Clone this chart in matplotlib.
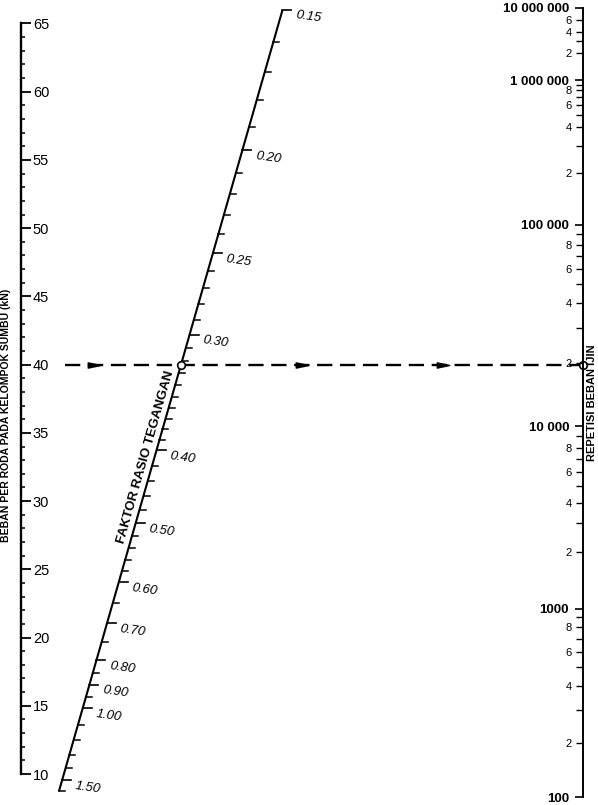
import numpy as np
import matplotlib
matplotlib.use("Agg")
import matplotlib.pyplot as plt
from matplotlib.ticker import FixedLocator, FuncFormatter
from matplotlib.path import Path

plt.rcParams['font.family'] = ['Liberation Sans', 'DejaVu Sans']
plt.rcParams['lines.scale_dashes'] = False

# ---------------- data ----------------
load_major = [10, 15, 20, 25, 30, 35, 40, 45, 50, 55, 60, 65]
load_minor = [v for v in range(10, 66) if v % 5 != 0]

sr_labeled = [0.15, 0.20, 0.25, 0.30, 0.40, 0.50, 0.60, 0.70, 0.80, 0.90, 1.00, 1.50]
sr_labels = ["0.15", "0.20", "0.25", "0.30", "0.40", "0.50", "0.60",
             "0.70", "0.80", "0.90", "1.00", "1.50"]
sr_minor = [0.16, 0.17, 0.18, 0.19, 0.21, 0.22, 0.23, 0.24, 0.26, 0.27, 0.28, 0.29,
            0.31, 0.32, 0.33, 0.34, 0.35, 0.36, 0.37, 0.38, 0.39,
            0.42, 0.44, 0.46, 0.48, 0.52, 0.54, 0.56, 0.58,
            0.65, 0.75, 0.85, 0.95, 1.10, 1.20, 1.30, 1.40, 1.60]

rep_decades = [100, 1000, 10000, 100000, 1000000, 10000000]
rep_decade_labels = ["100", "1000", "10 000", "100 000", "1 000 000", "10 000 000"]
rep_minor_labeled = [200, 400, 600, 800, 2000, 4000, 6000, 8000,
                     20000, 40000, 60000, 80000, 200000, 400000, 600000, 800000,
                     2000000, 4000000, 6000000]
rep_minor_labels = ["2", "4", "6", "8"] * 4 + ["2", "4", "6"]
rep_minor_plain = [300, 500, 700, 900, 3000, 5000, 7000, 9000,
                   30000, 50000, 70000, 90000, 300000, 500000, 700000, 900000, 3000000]

example_load = 40          # kN, dashed example line
example_arrows = [0.13, 0.50, 0.75]   # arrow positions along the example line

# ------------- nomograph scale calibration (value -> fraction of scale height) -------------
SR_CAL_VALUES = [0.15, 0.16, 0.17, 0.18, 0.19, 0.20, 0.25, 0.30, 0.40, 0.50,
                 0.60, 0.70, 0.80, 0.90, 1.00, 1.50, 1.60]
SR_CAL_FRAC = [0.9975, 0.9569, 0.9189, 0.8834, 0.8492, 0.8200, 0.6895, 0.5856, 0.4398, 0.3473,
               0.2725, 0.2205, 0.1736, 0.1420, 0.1128, 0.0215, 0.0070]

REP_CAL_VALUES = [1e2, 2e2, 4e2, 6e2, 8e2, 1e3, 2e3, 4e3, 6e3, 8e3, 1e4, 2e4, 4e4, 6e4, 8e4,
                  1e5, 2e5, 4e5, 6e5, 8e5, 1e6, 2e6, 4e6, 6e6, 1e7]
REP_CAL_FRAC = [0.0, 0.0684, 0.1407, 0.1838, 0.2155, 0.2383, 0.3105, 0.3726, 0.4119, 0.4423,
                0.4702, 0.5501, 0.6261, 0.6692, 0.6996, 0.7250, 0.7909, 0.8492, 0.8771, 0.8961,
                0.9087, 0.9430, 0.9696, 0.9848, 1.0]

LOG_REP = np.log10(REP_CAL_VALUES)
LOG_SR = np.log10(SR_CAL_VALUES)


def rep_to_frac(n):
    n = np.clip(np.asarray(n, dtype=float), 1e-12, None)
    return np.interp(np.log10(n), LOG_REP, REP_CAL_FRAC)


def frac_to_rep(f):
    return 10 ** np.interp(np.asarray(f, dtype=float), REP_CAL_FRAC, LOG_REP)


def sr_to_frac(v):
    return np.interp(np.log10(v), LOG_SR, SR_CAL_FRAC)


# ---------------- layout ----------------
FIG_W, FIG_H = 598, 805
X0, X1 = 21 / FIG_W, 583 / FIG_W
B, H = 8 / FIG_H, 789 / FIG_H
LOAD_LIM = (8.3145, 66.135)
LINE_X_BOTTOM, LINE_X_TOP = 0.0646, 0.4663     # slanted scale x at axes bottom / top
TICK_MINOR, TICK_MAJOR = 6 / 562, 9 / 562

fig = plt.figure(figsize=(FIG_W / 100, FIG_H / 100), dpi=100)

ax = fig.add_axes([X0, B, X1 - X0, H])
ax.set_xlim(0, 1)
ax.set_ylim(*LOAD_LIM)
ax.axis('off')

# ---- left scale: load ----
axL = fig.add_axes([X0, B, 1e-4, H])
axL.set_ylim(*LOAD_LIM)
for s in ['left', 'top', 'bottom']:
    axL.spines[s].set_visible(False)
axL.spines['right'].set_bounds(10, 65)
axL.spines['right'].set_linewidth(1.7)
axL.patch.set_visible(False)
axL.xaxis.set_visible(False)
axL.yaxis.tick_right()
axL.yaxis.set_major_locator(FixedLocator(load_major))
axL.yaxis.set_minor_locator(FixedLocator(load_minor))
axL.yaxis.set_major_formatter(FuncFormatter(lambda v, p: f"{v:g}"))
axL.tick_params(axis='y', which='major', direction='out', length=7, width=1.3,
                pad=1.5, labelsize=10.5)
axL.tick_params(axis='y', which='minor', direction='out', length=3, width=1.1)

# ---- right scale: repetitions ----
axR = fig.add_axes([X1, B, 1e-4, H])
axR.set_yscale('function', functions=(rep_to_frac, frac_to_rep))
axR.set_ylim(100, 1e7)
for s in ['right', 'top', 'bottom']:
    axR.spines[s].set_visible(False)
axR.spines['left'].set_linewidth(1.4)
axR.patch.set_visible(False)
axR.xaxis.set_visible(False)
axR.yaxis.tick_left()
major_lab = dict(zip(rep_decades, rep_decade_labels))
minor_lab = dict(zip(rep_minor_labeled, rep_minor_labels))
axR.yaxis.set_major_locator(FixedLocator(rep_decades))
axR.yaxis.set_minor_locator(FixedLocator(sorted(rep_minor_labeled + rep_minor_plain)))


def _lookup(d):
    def f(v, p):
        for k, lab in d.items():
            if abs(v - k) <= 1e-6 * k:
                return lab
        return ""
    return f


axR.yaxis.set_major_formatter(FuncFormatter(_lookup(major_lab)))
axR.yaxis.set_minor_formatter(FuncFormatter(_lookup(minor_lab)))
axR.tick_params(axis='y', which='major', direction='out', length=6, width=1.2,
                pad=4, labelsize=9.5)
axR.tick_params(axis='y', which='minor', direction='out', length=5, width=1.0,
                pad=3, labelsize=8)
for t in axR.yaxis.get_majorticklabels():
    t.set_fontweight('bold')


# ---- slanted scale: stress ratio factor ----
def line_x(f):
    return LINE_X_BOTTOM + f * (LINE_X_TOP - LINE_X_BOTTOM)


all_sr = sorted(sr_labeled + sr_minor)
f_top, f_bot = sr_to_frac(all_sr[0]), sr_to_frac(all_sr[-1])
ax.plot([line_x(f_bot), line_x(f_top)], [f_bot, f_top], transform=ax.transAxes,
        color='black', lw=1.5, solid_capstyle='butt')
for v in sr_minor:
    f = sr_to_frac(v)
    ax.plot([line_x(f), line_x(f) + TICK_MINOR], [f, f], transform=ax.transAxes,
            color='black', lw=1.1)
for v, lab in zip(sr_labeled, sr_labels):
    f = sr_to_frac(v)
    x = line_x(f)
    ax.plot([x, x + TICK_MAJOR], [f, f], transform=ax.transAxes, color='black', lw=1.2)
    ax.annotate(lab, xy=(x + TICK_MAJOR, f), xycoords='axes fraction',
                xytext=(3, -4), textcoords='offset points', ha='left', va='center',
                rotation=-8, rotation_mode='anchor', fontsize=9.5, fontstyle='italic')

# angle of slanted line on screen
p0 = ax.transAxes.transform((line_x(0), 0))
p1 = ax.transAxes.transform((line_x(1), 1))
ang = np.degrees(np.arctan2(p1[1] - p0[1], p1[0] - p0[0]))
nx, ny = -np.sin(np.radians(ang)), np.cos(np.radians(ang))
f_lab = 0.428
ax.annotate("FAKTOR RASIO TEGANGAN", xy=(line_x(f_lab), f_lab), xycoords='axes fraction',
            xytext=(1.5 * nx, 1.5 * ny), textcoords='offset points', ha='center', va='bottom',
            rotation=ang, rotation_mode='anchor', fontsize=9.5, fontweight='bold')

# ---- example dashed line ----
f40 = (example_load - LOAD_LIM[0]) / (LOAD_LIM[1] - LOAD_LIM[0])
x_int = line_x(f40)
ax.plot([0.078, 1.0], [example_load, example_load], color='black', lw=1.7,
        dashes=(11, 5.5))
arrow_marker = Path([(-1, -0.42), (1, 0), (-1, 0.42), (-1, -0.42)],
                    [Path.MOVETO, Path.LINETO, Path.LINETO, Path.CLOSEPOLY])
ax.plot(example_arrows, [example_load] * len(example_arrows), ls='none',
        marker=arrow_marker, ms=9, color='black')
ax.plot([x_int, 1.0], [example_load, example_load], ls='none', marker='o', ms=5.5,
        mfc='white', mec='black', mew=1.2, clip_on=False, zorder=5)

# ---- axis titles ----
fig.text(6 / FIG_W, 1 - 415 / FIG_H, "BEBAN PER RODA PADA KELOMPOK SUMBU (kN)",
         rotation=90, ha='center', va='center', fontsize=7.5, fontweight='bold')
fig.text(592 / FIG_W, 1 - 403 / FIG_H, "REPETISI BEBAN IJIN",
         rotation=90, ha='center', va='center', fontsize=8, fontweight='bold')

fig.savefig("out.png", dpi=100)
